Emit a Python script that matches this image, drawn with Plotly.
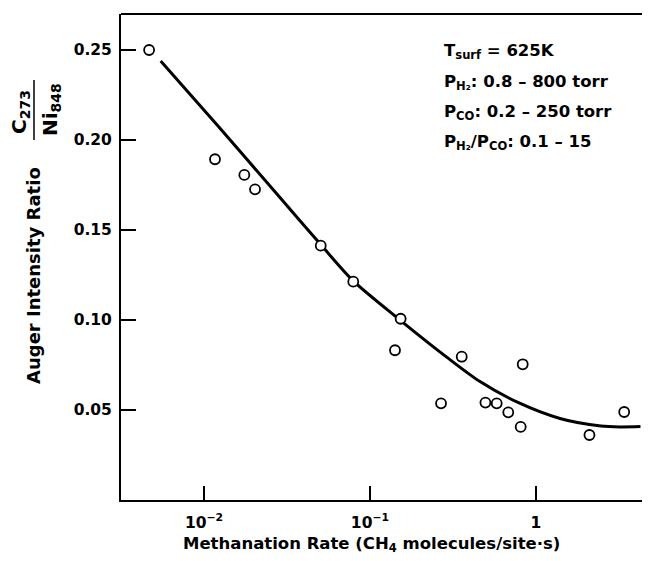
import plotly.graph_objects as go

# ---- data ----
rate = [0.00467, 0.01165, 0.0175, 0.0203, 0.0505, 0.0793, 0.153, 0.1415,
        0.268, 0.357, 0.496, 0.580, 0.681, 0.809, 0.832, 2.10, 3.40]
ratio = [0.250, 0.1893, 0.1806, 0.1726, 0.1413, 0.1213, 0.1007, 0.0832,
         0.0537, 0.0796, 0.0541, 0.0537, 0.0487, 0.0406, 0.0754, 0.0361, 0.0489]

fit_rate = [0.005485, 0.01193, 0.02938, 0.05047, 0.07929, 0.1531, 0.2897,
            0.4600, 0.7790, 1.395, 2.464, 3.206, 4.262]
fit_ratio = [0.2439, 0.2086, 0.1669, 0.1419, 0.1217, 0.0997, 0.0794,
             0.0658, 0.0542, 0.0453, 0.0411, 0.0406, 0.0408]

x_tickvals = [0.01, 0.1, 1]
x_ticktext = ["10<sup>\u22122</sup>", "10<sup>\u22121</sup>", "1"]
y_tickvals = [0.05, 0.10, 0.15, 0.20, 0.25]
y_ticktext = ["0.05", "0.10", "0.15", "0.20", "0.25"]

info_lines = [
    "T<sub>surf</sub> = 625K",
    "P<sub>H\u2082</sub>: 0.8 \u2013 800 torr",
    "P<sub>CO</sub>: 0.2 \u2013 250 torr",
    "P<sub>H\u2082</sub>/P<sub>CO</sub>: 0.1 \u2013 15",
]

FONT = "DejaVu Sans"

fig = go.Figure()
fig.add_trace(go.Scatter(x=fit_rate, y=fit_ratio, mode="lines",
                         line=dict(color="black", width=3, shape="spline", smoothing=0.8),
                         hoverinfo="skip", showlegend=False))
fig.add_trace(go.Scatter(x=rate, y=ratio, mode="markers",
                         marker=dict(symbol="circle", size=10, color="white",
                                     line=dict(color="black", width=1.8)),
                         showlegend=False))

OFF = 8  # page body margin of the browser
W, H = 650 - OFF, 561 - OFF
ml, mr, mt, mb = 121 - OFF, 0, 14 - OFF, 61
pw, ph = W - ml - mr, H - mt - mb


def px(x):
    # reference-picture x pixel -> paper fraction
    return (x - OFF - ml) / pw


def py(y):
    # reference-picture y pixel -> paper fraction
    return (H - mb - (y - OFF)) / ph


fig.update_layout(
    width=W, height=H,
    margin=dict(l=ml, r=mr, t=mt, b=mb, pad=0),
    paper_bgcolor="white", plot_bgcolor="white",
    font=dict(family=FONT, color="black", size=15, weight="bold"),
    xaxis=dict(type="log", range=[-2.5, 0.687], tickvals=x_tickvals, ticktext=x_ticktext,
               ticks="inside", ticklen=14, tickwidth=2, tickcolor="black",
               showline=True, linewidth=2, linecolor="black", mirror=False,
               showgrid=False, zeroline=False, ticklabelstandoff=7,
               tickfont=dict(family=FONT, size=15.5, weight="bold")),
    yaxis=dict(range=[0, 0.27], tickvals=y_tickvals, ticktext=y_ticktext,
               ticks="inside", ticklen=15, tickwidth=2, tickcolor="black",
               showline=True, linewidth=2, linecolor="black",
               showgrid=False, zeroline=False, ticklabelstandoff=4,
               tickfont=dict(family=FONT, size=15.5, weight="bold")),
    showlegend=False,
)

# top frame line
fig.add_shape(type="line", xref="paper", yref="paper", x0=0, x1=1, y0=1, y1=1,
              line=dict(color="black", width=2))

ann = []
info_y = [51, 82.5, 112.5, 142.5]
for t, yy in zip(info_lines, info_y):
    ann.append(dict(text=t, x=px(442), y=py(yy), xref="paper", yref="paper",
                    xanchor="left", yanchor="middle", showarrow=False,
                    font=dict(family=FONT, size=16.5, weight="bold")))

ann.append(dict(text="Methanation Rate (CH<sub>4</sub> molecules/site\u00b7s)",
                x=px(371.5), y=py(544), xref="paper", yref="paper",
                xanchor="center", yanchor="middle", showarrow=False,
                font=dict(family=FONT, size=16.5, weight="bold")))
ann.append(dict(text="Auger Intensity Ratio", textangle=-90,
                x=px(33), y=py(276), xref="paper", yref="paper",
                xanchor="center", yanchor="middle", showarrow=False,
                font=dict(family=FONT, size=18, weight="bold")))
ann.append(dict(text="C<sub>273</sub>", textangle=-90,
                x=px(20), y=py(112), xref="paper", yref="paper",
                xanchor="center", yanchor="middle", showarrow=False,
                font=dict(family=FONT, size=20, weight="bold")))
ann.append(dict(text="Ni<sub>848</sub>", textangle=-90,
                x=px(51), y=py(110), xref="paper", yref="paper",
                xanchor="center", yanchor="middle", showarrow=False,
                font=dict(family=FONT, size=20, weight="bold")))
fig.update_layout(annotations=ann)

fig.add_shape(type="line", xref="paper", yref="paper", x0=px(34), x1=px(34),
              y0=py(80), y1=py(140), line=dict(color="black", width=1.5))

fig.write_html("out.html")
